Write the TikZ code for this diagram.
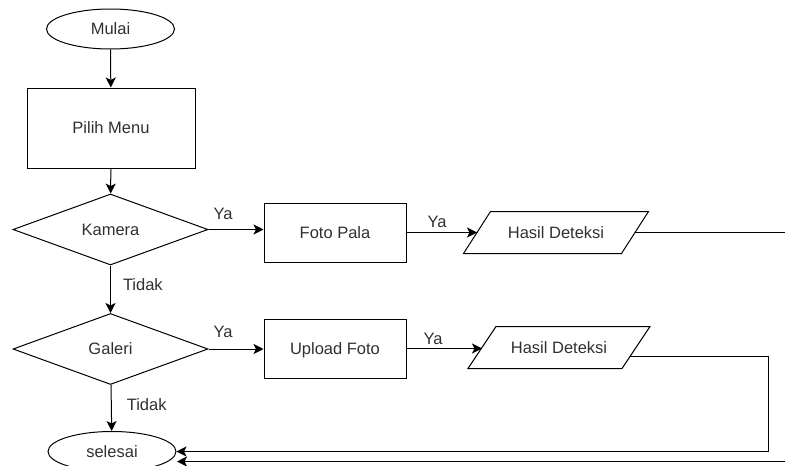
\documentclass[tikz,border=0pt]{standalone}
\usepackage{fontspec}
\setmainfont{Liberation Sans}
\usetikzlibrary{shapes.geometric,arrows.meta,calc}

\definecolor{txt}{RGB}{48,48,48}

\tikzset{
  base/.style={draw=black, line width=1pt, text=txt, inner sep=0pt, text depth=0pt,
               font=\fontsize{16.5}{19.8}\selectfont},
  terminal/.style={base, ellipse, minimum width=128, minimum height=40},
  process/.style={base, rectangle},
  decision/.style={base, diamond, minimum width=195, minimum height=71},
  % text holder of a data box; the slanted outline is drawn separately
  iotext/.style={base, draw=none, rectangle, minimum height=41},
  lbl/.style={text=txt, inner sep=0pt, text depth=0pt, font=\fontsize{16.5}{19.8}\selectfont},
  flow/.style={draw=black, line width=1pt, -{Stealth[length=10pt,width=10pt,inset=2.5pt]}},
  outline/.style={draw=black, line width=1pt, line join=miter}
}

% slanted outline round a data node: #1 node name, #2 half of the slant
\newcommand{\dataoutline}[2]{%
  \draw[outline] ([xshift=#2]#1.north west) -- ([xshift=#2]#1.north east)
    -- ([xshift=-#2]#1.south east) -- ([xshift=-#2]#1.south west) -- cycle;}

\begin{document}
\begin{tikzpicture}[x=1pt, y=-1pt]
  \useasboundingbox (0,0) rectangle (785,466);

  % start / end terminals
  \node[terminal] (mulai) at (110.5,29) {Mulai};
  \node[terminal] (selesai) at (112,451.5) {selesai};

  % main column
  \node[process, minimum width=168, minimum height=80] (menu) at (111,128) {Pilih Menu};
  \node[decision] (kamera) at (110.5,229.5) {Kamera};
  \node[decision] (galeri) at (110.5,349) {Galeri};

  % camera branch
  \node[process, minimum width=142, minimum height=59] (foto) at (335,232.5) {Foto Pala};
  \node[iotext, minimum width=157] (hasil1) at (556,232.5) {Hasil Deteksi};
  \dataoutline{hasil1}{13.5pt}

  % gallery branch
  \node[process, minimum width=142, minimum height=59] (upload) at (335,348.5) {Upload Foto};
  \node[iotext, minimum width=153] (hasil2) at (559,347.5) {Hasil Deteksi};
  \dataoutline{hasil2}{14pt}

  % return points into the end terminal
  \coordinate (back1) at (177,461.5);
  \coordinate (out2) at ($(hasil2.east)+(-5.8,8.5)$);

  % vertical flow
  \draw[flow] (mulai) -- (menu);
  \draw[flow] (menu) -- (kamera);
  \draw[flow] (kamera) -- node[lbl, pos=0.4, right=12pt] {Tidak} (galeri);
  \draw[flow] (galeri) -- node[lbl, pos=0.42, right=15pt] {Tidak} (selesai);

  % camera branch connectors
  \draw[flow] (kamera.east) -- (kamera.east -| foto.west);
  \node[lbl] (ya1) at (223,213.5) {Ya};
  \draw[flow] (foto.east) -- (foto.east -| hasil1.west);
  \node[lbl] (ya2) at (437,222) {Ya};
  \draw[flow] (hasil1.east) -- (800,232.5) |- (back1);

  % gallery branch connectors
  \draw[flow] (galeri.east) -- (galeri.east -| upload.west);
  \node[lbl] (ya3) at (223,332) {Ya};
  \draw[flow] (upload.east) -- (upload.east -| hasil2.west);
  \node[lbl] (ya4) at (433,338.5) {Ya};
  \draw[flow] (out2) -- (768,356) |- (selesai.east);
\end{tikzpicture}
\end{document}
